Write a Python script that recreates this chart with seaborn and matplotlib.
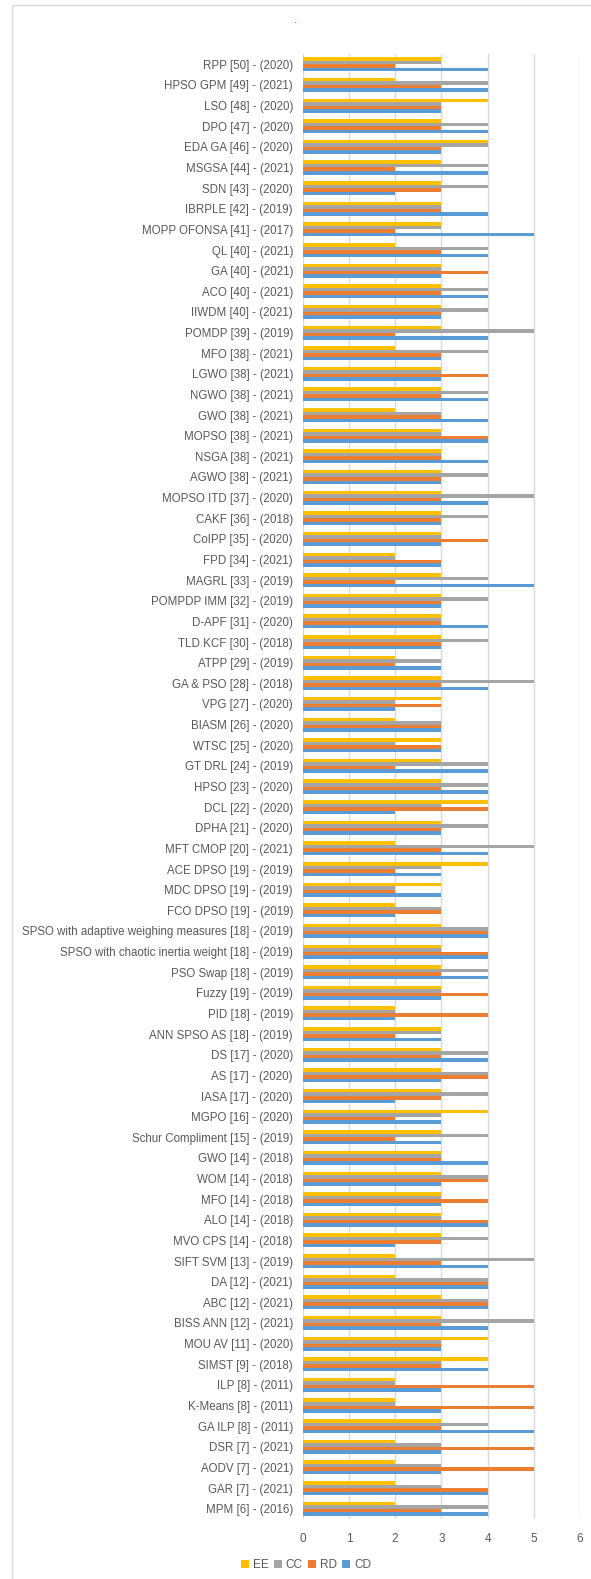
import pandas as pd
import matplotlib
matplotlib.use("Agg")
import matplotlib.pyplot as plt
from matplotlib.patches import Rectangle
import seaborn as sns

# categories, top to bottom as drawn
methods = [
    "RPP [50] - (2020)", "HPSO GPM [49] - (2021)", "LSO [48] - (2020)", "DPO [47] - (2020)",
    "EDA GA [46] - (2020)", "MSGSA [44] - (2021)", "SDN [43] - (2020)", "IBRPLE [42] - (2019)",
    "MOPP OFONSA [41] - (2017)", "QL [40] - (2021)", "GA [40] - (2021)", "ACO [40] - (2021)",
    "IIWDM [40] - (2021)", "POMDP [39] - (2019)", "MFO [38] - (2021)", "LGWO [38] - (2021)",
    "NGWO [38] - (2021)", "GWO [38] - (2021)", "MOPSO [38] - (2021)", "NSGA [38] - (2021)",
    "AGWO [38] - (2021)", "MOPSO ITD [37] - (2020)", "CAKF [36] - (2018)", "CoIPP [35] - (2020)",
    "FPD [34] - (2021)", "MAGRL [33] - (2019)", "POMPDP IMM [32] - (2019)", "D-APF [31] - (2020)",
    "TLD KCF [30] - (2018)", "ATPP [29] - (2019)", "GA & PSO [28] - (2018)", "VPG [27] - (2020)",
    "BIASM [26] - (2020)", "WTSC [25] - (2020)", "GT DRL [24] - (2019)", "HPSO [23] - (2020)",
    "DCL [22] - (2020)", "DPHA [21] - (2020)", "MFT CMOP [20] - (2021)", "ACE DPSO [19] - (2019)",
    "MDC DPSO [19] - (2019)", "FCO DPSO [19] - (2019)",
    "SPSO with adaptive weighing measures [18] - (2019)",
    "SPSO with chaotic inertia weight [18] - (2019)",
    "PSO Swap [18] - (2019)", "Fuzzy [19] - (2019)", "PID [18] - (2019)", "ANN SPSO AS [18] - (2019)",
    "DS [17] - (2020)", "AS [17] - (2020)", "IASA [17] - (2020)", "MGPO [16] - (2020)",
    "Schur Compliment [15] - (2019)", "GWO [14] - (2018)", "WOM [14] - (2018)", "MFO [14] - (2018)",
    "ALO [14] - (2018)", "MVO CPS [14] - (2018)", "SIFT SVM [13] - (2019)", "DA [12] - (2021)",
    "ABC [12] - (2021)", "BISS ANN [12] - (2021)", "MOU AV [11] - (2020)", "SIMST [9] - (2018)",
    "ILP [8] - (2011)", "K-Means [8] - (2011)", "GA ILP [8] - (2011)", "DSR [7] - (2021)",
    "AODV [7] - (2021)", "GAR [7] - (2021)", "MPM [6] - (2016)",
]

ee = [3, 2, 4, 3, 4, 3, 3, 3, 3, 2, 3, 3,
      3, 3, 2, 3, 3, 2, 3, 3, 3, 3, 3, 3,
      2, 3, 3, 3, 3, 2, 3, 3, 2, 3, 3, 3,
      4, 3, 2, 4, 3, 2, 3, 3, 3, 3, 2, 3,
      3, 3, 3, 4, 3, 3, 3, 3, 3, 3, 2, 2,
      3, 3, 4, 4, 2, 2, 3, 2, 2, 2, 2]
cc = [3, 4, 3, 4, 4, 4, 4, 3, 3, 4, 3, 4,
      4, 5, 4, 3, 4, 3, 3, 3, 4, 5, 4, 3,
      2, 4, 4, 3, 4, 3, 5, 2, 3, 2, 4, 4,
      3, 4, 5, 3, 2, 3, 4, 3, 4, 3, 2, 3,
      4, 4, 4, 3, 4, 3, 4, 3, 3, 4, 5, 4,
      4, 5, 3, 3, 2, 2, 4, 3, 3, 3, 4]
rd = [2, 3, 3, 3, 3, 2, 3, 3, 2, 3, 4, 3,
      3, 2, 3, 4, 3, 3, 4, 3, 3, 3, 3, 4,
      3, 2, 3, 3, 3, 2, 3, 3, 3, 3, 2, 3,
      4, 3, 3, 2, 2, 3, 4, 4, 3, 4, 4, 2,
      3, 4, 3, 2, 2, 3, 4, 4, 4, 3, 3, 4,
      4, 3, 3, 3, 5, 5, 3, 5, 5, 4, 3]
cd = [4, 4, 3, 4, 3, 4, 2, 4, 5, 4, 3, 4,
      3, 4, 3, 3, 4, 4, 4, 4, 3, 4, 3, 3,
      3, 5, 3, 4, 3, 3, 4, 2, 3, 3, 4, 4,
      2, 3, 4, 3, 3, 2, 4, 4, 4, 3, 2, 3,
      4, 3, 2, 3, 3, 4, 3, 3, 4, 2, 4, 4,
      4, 4, 3, 4, 3, 3, 5, 3, 3, 4, 4]

series = ["EE", "CC", "RD", "CD"]
colors = ["#FFC000", "#A5A5A5", "#ED7D31", "#5B9BD5"]
text_color = "#595959"

df = pd.DataFrame({"method": methods, "EE": ee, "CC": cc, "RD": rd, "CD": cd})
long = df.melt(id_vars="method", var_name="metric", value_name="score")

sns.set_theme(style="white")
plt.rcParams["font.family"] = ["Liberation Sans", "DejaVu Sans"]

W, H = 591, 1579
fig = plt.figure(figsize=(W / 100, H / 100), dpi=100)
ax = fig.add_axes([302.7 / W, 1 - 1519 / H, (580 - 302.7) / W, (1519 - 54) / H])

sns.barplot(data=long, y="method", x="score", hue="metric", order=methods,
            hue_order=series, palette=colors, orient="h", width=0.68,
            saturation=1, errorbar=None, linewidth=0, ax=ax)

ax.set_xlim(0, 6)
ax.set_xticks(range(7))
ax.set_xlabel("")
ax.set_ylabel("")
ax.grid(axis="x", color="#D9D9D9", linewidth=1)
ax.set_axisbelow(True)
for s in ax.spines.values():
    s.set_visible(False)
ax.tick_params(axis="y", length=0, pad=7, labelsize=8.3, labelcolor=text_color)
ax.tick_params(axis="x", length=0, pad=10, labelsize=8.5, labelcolor=text_color)

handles, labels = ax.get_legend_handles_labels()
ax.get_legend().remove()
fig.legend(handles, labels, loc="center", bbox_to_anchor=(306 / W, 1 - 1565 / H),
           ncol=4, frameon=False, fontsize=8.5, labelcolor=text_color,
           handlelength=0.7, handleheight=0.7, handletextpad=0.3, columnspacing=0.45)

fig.text(296 / W, 1 - 20 / H, ".", ha="center", va="center", color=text_color, fontsize=9)

# chart border (only left and top edges fall inside the image)
fig.add_artist(Rectangle((12 / W, -0.1), 1.2, (H - 5) / H + 0.1, transform=fig.transFigure,
                         fill=False, edgecolor="#D9D9D9", linewidth=1))

fig.savefig("out.png", dpi=100)
